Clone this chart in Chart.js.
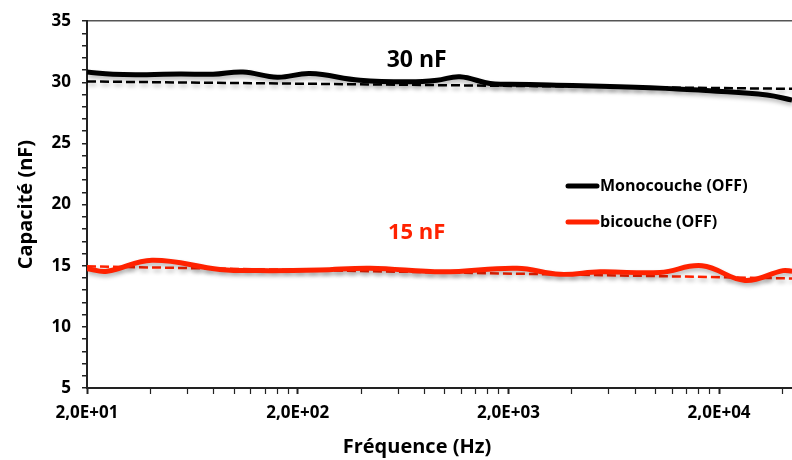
<!DOCTYPE html>
<html>
<head>
<meta charset="utf-8">
<script src="https://cdn.jsdelivr.net/npm/chart.js@4.4.1/dist/chart.umd.min.js"></script>
<style>
  html, body { margin: 0; padding: 0; background: #fff; }
  #wrap { width: 792px; height: 460px; }
</style>
</head>
<body>
<div id="wrap"><canvas id="capChart" width="792" height="460"></canvas></div>
<script>
// frequency (Hz) / capacitance (nF)
const monoFreq = [20, 26.6, 38.5, 55.3, 79.3, 110, 160, 229, 395, 682, 917, 1178, 1637, 2036, 3150, 9400, 19550, 33730, 44370];
const monoCap = [30.85, 30.66, 30.63, 30.69, 30.66, 30.85, 30.42, 30.72, 30.17, 30.04, 30.17, 30.45, 29.9, 29.85, 29.78, 29.56, 29.28, 28.96, 28.56];

const biFreq = [20, 24.9, 40.7, 85.5, 132, 255, 441, 979, 2197, 3516, 5446, 10490, 16600, 26540, 40200, 44370];
const biCap = [14.75, 14.55, 15.45, 14.7, 14.6, 14.65, 14.8, 14.5, 14.8, 14.3, 14.5, 14.45, 15.0, 13.8, 14.6, 14.55];

// dashed trend lines (two ends)
const trendFreq = [20, 44370];
const monoTrend = [30.07, 29.47];
const biTrend = [14.95, 13.96];

const xMajor = [20, 200, 2000, 20000];
const xTickLabels = ["2,0E+01", "2,0E+02", "2,0E+03", "2,0E+04"];
const xMinor = [40, 60, 80, 100, 120, 140, 160, 180,
  400, 600, 800, 1000, 1200, 1400, 1600, 1800,
  4000, 6000, 8000, 10000, 12000, 14000, 16000, 18000, 40000];

const xTitle = "Fréquence (Hz)";
const yTitle = "Capacité (nF)";
const legendLabels = ["Monocouche (OFF)", "bicouche (OFF)"];
const noteLabels = ["30 nF", "15 nF"];
const notePos = [{ f: 734, v: 31.75 }, { f: 734, v: 17.7 }];

const BLACK = "#000000";
const RED = "#ff2200";
const FONT = "'Open Sans', sans-serif";

function pairs(xs, ys) {
  return xs.map((x, i) => ({ x: x, y: ys[i] }));
}

const shadowPlugin = {
  id: "shadow",
  beforeDatasetsDraw(chart) {
    const ctx = chart.ctx;
    ctx.save();
    ctx.shadowColor = "rgba(0,0,0,0.28)";
    ctx.shadowBlur = 4;
    ctx.shadowOffsetX = 1;
    ctx.shadowOffsetY = 3;
  },
  afterDatasetsDraw(chart) {
    chart.ctx.restore();
  },
};

const overlayPlugin = {
  id: "overlay",
  afterDraw(chart) {
    const ctx = chart.ctx;
    const colors = [BLACK, RED];
    ctx.save();

    // legend, inside the plot
    ctx.font = "bold 16px " + FONT;
    ctx.textBaseline = "middle";
    ctx.textAlign = "left";
    legendLabels.forEach((label, i) => {
      const y = 186 + i * 36;
      ctx.strokeStyle = colors[i];
      ctx.lineWidth = 5;
      ctx.lineCap = "round";
      ctx.beginPath();
      ctx.moveTo(568, y);
      ctx.lineTo(597, y);
      ctx.stroke();
      ctx.fillStyle = "#000";
      ctx.fillText(label, 600, y);
    });

    // value notes
    ctx.textAlign = "center";
    noteLabels.forEach((txt, i) => {
      ctx.font = "bold " + (i === 0 ? 23 : 22) + "px " + FONT;
      ctx.fillStyle = colors[i];
      const x = chart.scales.x.getPixelForValue(notePos[i].f);
      const y = chart.scales.y.getPixelForValue(notePos[i].v);
      ctx.fillText(txt, x, y);
    });

    // x axis title (centred on the whole original frame, not the plot)
    ctx.font = "bold 20px " + FONT;
    ctx.fillStyle = "#000";
    ctx.fillText(xTitle, 417, 447);
    ctx.restore();
  },
};

new Chart(document.getElementById("capChart"), {
  type: "line",
  data: {
    datasets: [
      {
        label: legendLabels[0],
        data: pairs(monoFreq, monoCap),
        borderColor: BLACK,
        borderWidth: 5,
        tension: 0.4,
        pointRadius: 0,
      },
      {
        label: legendLabels[1],
        data: pairs(biFreq, biCap),
        borderColor: RED,
        borderWidth: 5,
        tension: 0.4,
        pointRadius: 0,
      },
      {
        label: "trend mono",
        data: pairs(trendFreq, monoTrend),
        borderColor: BLACK,
        borderWidth: 2.5,
        borderDash: [9, 4],
        pointRadius: 0,
      },
      {
        label: "trend bi",
        data: pairs(trendFreq, biTrend),
        borderColor: RED,
        borderWidth: 2.5,
        borderDash: [9, 4],
        pointRadius: 0,
      },
    ],
  },
  options: {
    responsive: false,
    animation: false,
    events: [],
    layout: { padding: { top: 17, right: 0, left: 0, bottom: 0 } },
    plugins: {
      legend: { display: false },
      tooltip: { enabled: false },
    },
    scales: {
      x: {
        type: "logarithmic",
        min: 20,
        max: 44370,
        afterBuildTicks: (scale) => {
          scale.ticks = xMajor.concat(xMinor)
            .sort((a, b) => a - b)
            .map((v) => ({ value: v, major: xMajor.includes(v) }));
        },
        afterFit: (scale) => {
          scale.height = 72;
        },
        ticks: {
          autoSkip: false,
          maxRotation: 0,
          padding: 9,
          color: "#000",
          font: { family: FONT, size: 17, weight: "bold" },
          callback: (value) => {
            const idx = xMajor.indexOf(value);
            return idx >= 0 ? xTickLabels[idx] : "";
          },
        },
        grid: {
          drawOnChartArea: false,
          tickLength: 6,
          tickColor: "#222",
          tickWidth: (ctx) => (ctx.tick && xMajor.includes(ctx.tick.value) ? 2 : 1.2),
        },
        border: { display: true, color: "#222", width: 2 },
        title: { display: false },
      },
      y: {
        min: 5,
        max: 35,
        afterFit: (scale) => {
          scale.width = 87;
        },
        ticks: {
          stepSize: 1,
          autoSkip: false,
          padding: 11,
          color: "#000",
          font: { family: FONT, size: 17, weight: "bold" },
          callback: (value) => (value % 5 === 0 ? value : ""),
        },
        grid: {
          drawOnChartArea: true,
          color: (ctx) => (ctx.tick && ctx.tick.value === 35 ? "#555" : "rgba(0,0,0,0)"),
          lineWidth: 1.5,
          tickLength: 5,
          tickColor: "#222",
          tickWidth: 1.5,
        },
        border: { display: true, color: "#222", width: 2 },
        title: {
          display: true,
          text: yTitle,
          color: "#000",
          font: { family: FONT, size: 20, weight: "bold" },
          padding: { top: 14, bottom: 0 },
        },
      },
    },
  },
  plugins: [shadowPlugin, overlayPlugin],
});
</script>
</body>
</html>
